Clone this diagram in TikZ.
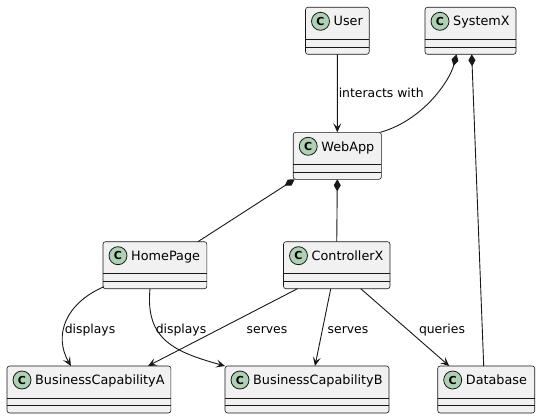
\documentclass[tikz,border=0pt]{standalone}
\usepackage{fontspec}
\setmainfont{DejaVu Sans}
\usetikzlibrary{arrows.meta}
\definecolor{edgecol}{HTML}{181818}
\definecolor{boxfill}{HTML}{F1F1F1}
\definecolor{spotfill}{HTML}{ADD1B2}
\tikzset{
  classbox/.style={draw=edgecol, line width=0.6pt, fill=boxfill, rounded corners=2.5pt,
    minimum height=47pt, inner sep=0pt, outer sep=0pt},
  compline/.style={draw=edgecol, line width=0.6pt},
  spotc/.style={circle, draw=edgecol, line width=0.8pt, fill=spotfill, minimum size=18pt,
    inner sep=0pt, font=\fontsize{11}{11}\selectfont\bfseries, text=black},
  classname/.style={anchor=base west, inner sep=0pt, font=\fontsize{12.8}{15}\selectfont, text=black},
  lbl/.style={inner sep=0pt, font=\fontsize{12.4}{15}\selectfont, text=black},
  assoc/.style={draw=edgecol, line width=0.9pt, -{Stealth[length=9pt,width=8pt,inset=4pt]}},
  comp/.style={draw=edgecol, line width=0.9pt, {Diamond[length=12pt,width=7pt]}-},
}
\newcommand\umlclass[5]{%
  \node[classbox, minimum width=#4pt, anchor=north west] (#1) at (#2,#3) {};
  \draw[compline] ([yshift=-32pt]#1.north west) -- ([yshift=-32pt]#1.north east);
  \draw[compline] ([yshift=-39.7pt]#1.north west) -- ([yshift=-39.7pt]#1.north east);
  \node[spotc] (#1-spot) at ([xshift=15pt,yshift=-14pt]#1.north west) {C};
  \node[classname] (#1-name) at ([xshift=28pt,yshift=-18.7pt]#1.north west) {#5};
}
\begin{document}
\begin{tikzpicture}[x=1pt,y=-1pt]
\useasboundingbox (0,0) rectangle (541,420);
\fill[white] (0,0) rectangle (541,420);

\umlclass{User}{305.5}{7.3}{63.7}{User}
\umlclass{SystemX}{425}{7.3}{91}{SystemX}
\umlclass{WebApp}{293.2}{132.3}{88.2}{WebApp}
\umlclass{HomePage}{103}{241.7}{103.9}{HomePage}
\umlclass{ControllerX}{283.5}{241.7}{106.5}{ControllerX}
\umlclass{BCA}{7}{366}{163.9}{BusinessCapabilityA}
\umlclass{BCB}{225}{366}{164}{BusinessCapabilityB}
\umlclass{Database}{437.7}{366}{97}{Database}

% User -> WebApp
\draw[assoc] (User.south) -- (WebApp.north)
  node[lbl, midway, anchor=west, xshift=1pt] (l-int) {interacts with};

% compositions
\draw[comp] ([xshift=-14pt]SystemX.south) .. controls +(-6.5,25.7) and +(43.3,-12.3) .. ([xshift=-1pt]WebApp.north east);
\draw[comp] ([xshift=1.2pt]SystemX.south) -- ([xshift=-2.5pt]Database.north);
\draw[comp] ([xshift=1.5pt]WebApp.south west) -- ([xshift=-9pt]HomePage.north east);
\draw[comp] (WebApp.south) -- (ControllerX.north);

% HomePage displays
\draw[assoc] ([xshift=1pt,yshift=2pt]HomePage.south west) .. controls (66,303) and (53,335) .. ([xshift=-18pt]BCA.north);
\draw[assoc] ([xshift=47pt]HomePage.south west) .. controls (145,340) and (175,352) .. (BCB.north west);
\node[lbl] (l-d1) at (90,330) {displays};
\node[lbl] (l-d2) at (181,330) {displays};

% ControllerX
\draw[assoc] ([xshift=14pt]ControllerX.south west) -- ([xshift=59pt]BCA.north);
\draw[assoc] ([xshift=-6pt]ControllerX.south) -- ([xshift=8pt]BCB.north);
\draw[assoc] ([xshift=24pt]ControllerX.south) -- ([xshift=-37pt]Database.north);
\node[lbl] (l-s1) at (267,330) {serves};
\node[lbl] (l-s2) at (348,330) {serves};
\node[lbl] (l-q) at (442,330) {queries};
\end{tikzpicture}
\end{document}
